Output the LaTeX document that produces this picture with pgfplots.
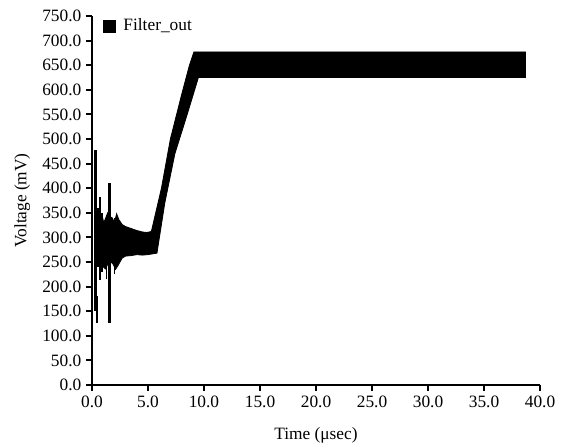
\documentclass[border=0pt]{standalone}
\usepackage{pgfplots}
\pgfplotsset{compat=1.18}
\usepackage{fontspec}
\setmainfont{Liberation Serif}
\begin{document}
\begin{tikzpicture}
\begin{axis}[
  scale only axis,
  width=336pt, height=276.75pt,
  xmin=0, xmax=40, ymin=0, ymax=750,
  axis lines=left,
  axis line style={-, line width=1.8pt},
  tick style={line width=1.5pt},
  tick align=outside,
  major tick length=4.5pt,
  xtick={0,5,...,40},
  ytick={0,50,...,750},
  xticklabel style={/pgf/number format/assume math mode=true, /pgf/number format/fixed, /pgf/number format/fixed zerofill, /pgf/number format/precision=1},
  yticklabel style={/pgf/number format/assume math mode=true, /pgf/number format/fixed, /pgf/number format/fixed zerofill, /pgf/number format/precision=1},
  tick label style={font=\fontsize{13}{15}\selectfont},
  label style={font=\fontsize{13}{15}\selectfont},
  xlabel={Time (μsec)},
  ylabel={Voltage (mV)},
  xlabel style={at={(axis description cs:0.5,-0.137)}, anchor=center},
  ylabel style={at={(axis description cs:-0.156,0.5)}, anchor=center},
  legend style={draw=none, fill=none, at={(0.025,1.0)}, anchor=north west,
    font=\fontsize{13}{15}\selectfont, inner sep=0pt},
  legend cell align=left,
  clip=false,
]
\addlegendimage{only marks, mark=square*, mark size=4.5pt, black}
\addlegendentry{\hspace{4pt}Filter\_out}
% main envelope of the signal
\addplot[fill=black, draw=black, line width=0.6pt, forget plot] coordinates {
 (0.9,345) (1.05,330) (1.2,338) (1.4,350) (1.6,342) (1.8,340) (2.0,330) (2.2,348)
 (2.4,336) (2.7,326) (3.0,322) (3.5,318) (4.0,314) (4.5,311) (4.9,310) (5.3,312)
 (6.2,400) (7.0,500) (8.0,590) (8.7,650) (9.1,677) (38.7,677)
 (38.7,625) (9.5,625) (8.5,550) (7.4,470) (6.5,370) (5.8,268)
 (5.0,265) (4.5,264) (4.0,265) (3.5,263) (3.0,262) (2.7,258) (2.5,250) (2.3,242)
 (2.1,235) (1.9,245) (1.7,250) (1.4,245) (1.2,236) (1.0,240) (0.9,240) (0.9,345)
};
% early spikes and noise
\addplot[line width=2.2pt, black, forget plot] coordinates {(0.32,150) (0.32,478)};
\addplot[line width=1.5pt, black, forget plot] coordinates {(0.45,126) (0.45,180)};
\addplot[line width=1.2pt, black, forget plot] coordinates {(0.25,200) (0.25,420)};
\addplot[line width=1.8pt, black, forget plot] coordinates {(0.7,213) (0.7,382)};
\addplot[line width=1.2pt, black, forget plot] coordinates {(0.55,240) (0.55,360)};
\addplot[line width=1.5pt, black, forget plot] coordinates {(0.85,230) (0.85,350)};
\addplot[line width=2.4pt, black, forget plot] coordinates {(1.58,126) (1.58,410)};
\addplot[line width=1.0pt, black, forget plot] coordinates {(1.3,215) (1.3,345)};
\addplot[line width=1.0pt, black, forget plot] coordinates {(2.0,225) (2.0,340)};
% axis lines and tick marks drawn explicitly
\draw[line width=1.8pt, black] (axis cs:0,750) -- (axis cs:0,0) -- (axis cs:40,0);
\pgfplotsinvokeforeach{0,5,...,40}{\draw[line width=1.5pt, black] (axis cs:#1,0) -- ++(0,-4.5pt);}
\pgfplotsinvokeforeach{0,50,...,750}{\draw[line width=1.5pt, black] (axis cs:0,#1) -- ++(-4.5pt,0);}
% page margins as in the reference
\path (rel axis cs:0,0) -- ++(-69pt,-47.25pt);
\path (rel axis cs:1,1) -- ++(20.25pt,12pt);
\end{axis}
\end{tikzpicture}
\end{document}
